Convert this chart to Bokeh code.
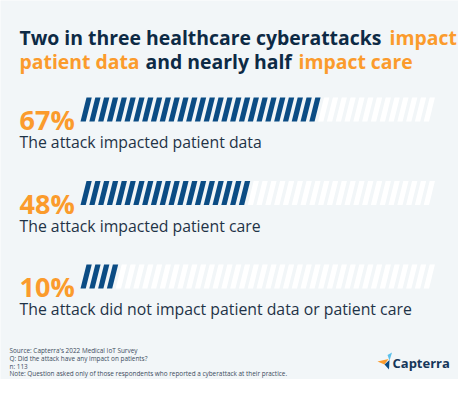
from bokeh.plotting import figure
from bokeh.models import Range1d, ColumnDataSource
from bokeh.core.properties import value
from bokeh.embed import file_html
from bokeh.resources import INLINE

# ---- data ----
percents = [67, 48, 10]
pct_labels = ["67%", "48%", "10%"]
descriptions = [
    "The attack impacted patient data",
    "The attack impacted patient care",
    "The attack did not impact patient data or patient care",
]
title_line1 = [("Two in three healthcare cyberattacks", "navy"), ("impact", "orange")]
title_line2 = [("patient data", "orange"), ("and nearly half", "navy"), ("impact care", "orange")]
footer_lines = [
    "Source: Capterra's 2022 Medical IoT Survey",
    "Q: Did the attack have any impact on patients?",
    "n: 113",
    "Note: Question asked only of those respondents who reported a cyberattack at their practice.",
]
n_stripes = 40

NAVY = "#0d2a45"
ORANGE = "#fb9b2c"
BLUE = "#0b4c84"
TEXT = "#1f3347"
BG = "#f2f6f8"
FONT = "Open Sans"

W, H = 458, 379
OFF = 6
p = figure(width=W, height=H, output_backend="svg", toolbar_location=None,
           x_range=Range1d(OFF, OFF + W), y_range=Range1d(OFF + H, OFF),
           min_border=0)
p.axis.visible = False
p.grid.visible = False
p.outline_line_color = None
p.background_fill_color = BG
p.border_fill_color = BG

# percentage scale for bars: 0 -> px 86, 100 -> px 438
bx0, bw = 86.0, 352.0
p.extra_x_ranges = {"pct": Range1d((OFF - bx0) / bw * 100, (OFF + W - bx0) / bw * 100)}

# ---- title ----
col = {"navy": NAVY, "orange": ORANGE}
t1_x = [25, 395]
t2_x = [25, 151, 304]
for (txt, c), x in zip(title_line1, t1_x):
    p.text(x=[x], y=[43], text=[txt], text_color=col[c], text_font=value(FONT),
           text_font_style="bold", text_font_size="19.4px", text_baseline="alphabetic")
for (txt, c), x in zip(title_line2, t2_x):
    p.text(x=[x], y=[67], text=[txt], text_color=col[c], text_font=value(FONT),
           text_font_style="bold", text_font_size="19.4px", text_baseline="alphabetic")

# ---- bars ----
period = 100.0 / n_stripes
sw = 1.5
slant = 1.7
row_gap = 83.5
fill_xs, fill_ys, empty_xs, empty_ys = [], [], [], []
for i, v in enumerate(percents):
    ytop = 103 + i * row_gap
    ybot = ytop + 24
    nfill = round(v / period)
    for k in range(n_stripes):
        xb = k * period
        xs = [xb, xb + sw, xb + sw + slant, xb + slant]
        ys = [ybot, ybot, ytop, ytop]
        if k < nfill:
            fill_xs.append(xs); fill_ys.append(ys)
        else:
            empty_xs.append(xs); empty_ys.append(ys)
p.patches(empty_xs, empty_ys, fill_color="white", line_color=None, x_range_name="pct")
p.patches(fill_xs, fill_ys, fill_color=BLUE, line_color=None, x_range_name="pct")

src = ColumnDataSource(dict(
    x=[25] * len(percents),
    yp=[125 + i * row_gap for i in range(len(percents))],
    yd=[147.5 + i * row_gap for i in range(len(percents))],
    pl=pct_labels, d=descriptions))
p.text(x="x", y="yp", text="pl", source=src, text_color=ORANGE, text_font=value(FONT),
       text_font_style="bold", text_font_size="27px", text_baseline="alphabetic")
p.text(x="x", y="yd", text="d", source=src, text_color=TEXT, text_font=value(FONT),
       text_font_size="15.8px", text_baseline="alphabetic")

# ---- footer ----
p.text(x=[15] * len(footer_lines), y=[356 + 7.8 * i for i in range(len(footer_lines))],
       text=footer_lines, text_color="#3b4b5c", text_font=value(FONT),
       text_font_size="6.4px", text_baseline="middle")

# ---- logo ----
p.patch([383, 394, 390], [367, 364.5, 370], fill_color=ORANGE, line_color=None)
p.patch([393, 397.5, 395], [360.5, 358, 366], fill_color="#5bc0ea", line_color=None)
p.patch([390, 395, 394.5], [370, 365.5, 375], fill_color=BLUE, line_color=None)
p.text(x=[398], y=[368], text=["Capterra"], text_color="#16365a", text_font=value(FONT),
       text_font_style="bold", text_font_size="13px", text_baseline="middle")

open("out.html", "w").write(file_html(p, INLINE))
